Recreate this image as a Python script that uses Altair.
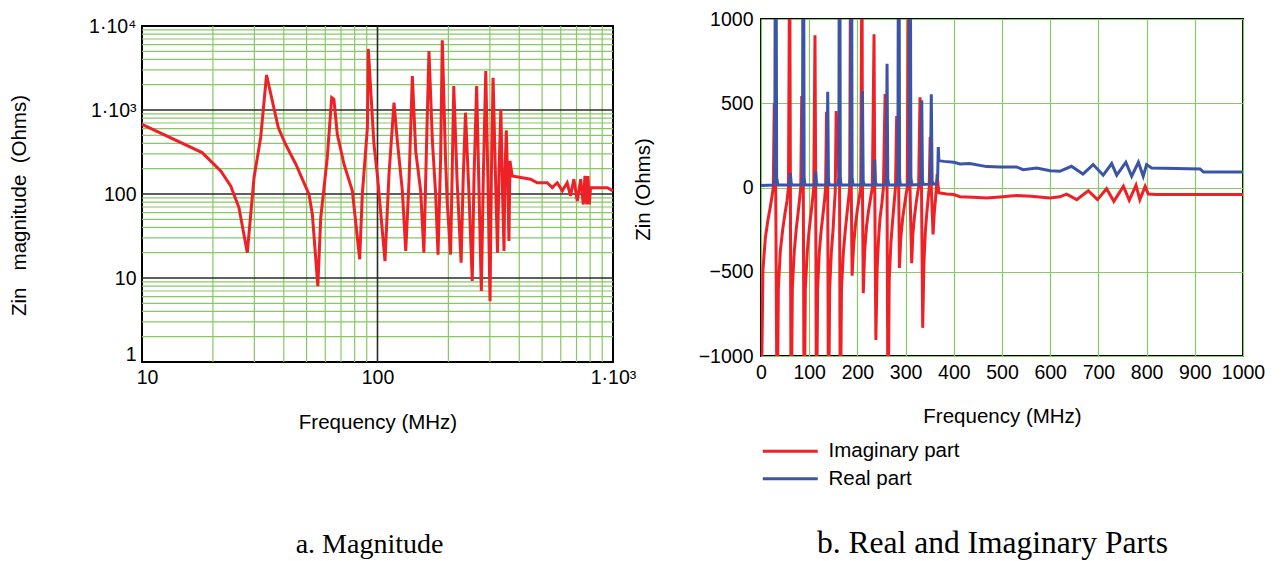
import altair as alt
import pandas as pd

# ---------------- data: left panel |Zin| (log-log) ----------------
mag_freq = [10, 18.0, 21.6, 23.8, 25.8, 28.0, 29.9, 31.9, 33.8, 37.9,
            40.7, 45.0, 51.2, 52.9, 55.8, 57.4, 61.2, 63.9, 65.3, 67.5,
            72.1, 78.2, 84.0, 86.2, 90.6, 91.4, 96.6, 99.8, 107.6, 111.9,
            117.5, 121.4, 127.5, 131.8, 136.1, 140.6, 145.3, 152.5, 157.4, 161.7,
            165.4, 171.0, 176.6, 180.7, 185.4, 188.4, 194.4, 197.6, 204.3, 207.5,
            210.8, 217.8, 226.5, 231.0, 236.4, 244.3, 252.5, 256.7, 263.6, 269.8,
            276.0, 281.6, 288.2, 294.6, 300.5, 304.5, 309.6, 318.0, 323.3, 328.4,
            334.0, 339.0, 344.5, 347.6, 352.3, 358.0, 361.5, 365.2, 373.1, 446.6,
            476.6, 525.5, 552, 580, 609, 639, 660, 682, 705, 729,
            748, 760, 773, 783, 793, 803, 857, 946, 1000]
mag_ohms = [676, 311, 188, 125, 69, 20, 156, 468, 2612, 617,
            391, 226, 99, 57, 8.0, 52, 271, 1403, 1341, 514,
            226, 109, 16.7, 99, 617, 5322, 391, 172, 15.9, 172,
            1222, 428, 109, 21, 143, 2541, 325, 109, 20, 428,
            5034, 428, 99, 19, 271, 6761, 271, 82.6, 19, 172,
            1931, 143, 15.2, 143, 929, 109, 9.2, 143, 1931, 109,
            7.0, 172, 2912, 130, 5.3, 172, 2426, 109, 20, 206,
            1019, 130, 21, 172, 573, 109, 27.6, 247, 164, 150,
            136, 136, 119, 136, 109, 136, 95, 150, 82.6, 150,
            75, 164, 75, 164, 75, 119, 119, 119, 109]

mag_x_ticks = [10, 100, 1000]
mag_y_ticks = [1, 10, 100, 1000, 10000]
mag_minor_x = [20, 30, 40, 50, 60, 70, 80, 90, 200, 300, 400, 500, 600, 700, 800, 900]
mag_minor_y = [2, 3, 4, 5, 6, 7, 8, 9, 20, 30, 40, 50, 60, 70, 80, 90,
               200, 300, 400, 500, 600, 700, 800, 900,
               2000, 3000, 4000, 5000, 6000, 7000, 8000, 9000]
mag_major_x = [100]
mag_major_y = [10, 100, 1000]

# ---------------- data: right panel real / imaginary ----------------
imag_freq = [1, 4, 9, 14, 19, 23, 25.5, 27.5, 30.5, 33.5,
             36, 40, 45, 50, 54, 57, 59.5, 61, 62.5,
             65, 69, 73, 77, 80, 82.5, 84.5, 87.8, 89.5,
             92, 96, 100, 104, 107, 109.5, 112, 113.5, 115,
             117.5, 121, 125, 129, 132, 134, 136, 138.4, 140,
             142.5, 146, 149.5, 152, 154, 156, 163, 164.5,
             167, 171, 175, 179, 182, 184, 185.5, 187.3, 189,
             192, 196, 200, 204, 207, 209.5, 210.5, 212.2,
             215, 219, 223, 227, 231, 234.5, 236, 238.3,
             241, 244, 247, 251, 254, 257.5, 261.5, 263.5,
             266, 269.5, 273, 276, 279, 281.5, 285.7, 287.2,
             290, 294, 298, 301, 303.5, 306, 309.1, 312.6,
             315, 318.5, 322, 325, 327, 329.9, 333, 335.5,
             338, 341, 344, 347, 349, 351, 353.3, 357,
             359.5, 362, 364, 365.5, 367.8, 369,
             372, 385, 400, 413, 440, 468, 496, 530, 560, 600,
             620, 634, 655, 679, 698, 717, 732, 752, 764, 778,
             786, 797, 803.5, 821, 1000]
imag_ohms = [-1200, -490, -300, -200, -120, -50, 0, 500, 0, -1500,
             -600, -380, -250, -150, -80, 0, 1500, 0, -1500,
             -600, -380, -250, -150, -70, 0, 543, 0, -1500,
             -600, -380, -250, -150, -70, 0, 904, 0, -1500,
             -600, -380, -250, -150, -70, 0, 450, 0, -1500,
             -600, -380, -250, -120, -30, 454, 0, -1500,
             -600, -380, -250, -140, -60, 0, 1200, 0, -523,
             -350, -220, -130, -60, 0, 1500, 0, -628,
             -380, -230, -140, -70, 0, 910, 0, -905,
             -480, -300, -180, -90, 0, 555, 0, -1500,
             -550, -330, -200, -100, 0, 424, 0, -477,
             -300, -180, -100, -40, 0, 1200, 0, -449,
             -280, -170, -90, -30, 0, 535, 0, -833,
             -450, -260, -150, -60, 0, 300, 0, -279,
             -150, -70, 0, 80, 0, -30,
             -33, -38, -42, -55, -58, -62, -56, -48, -52, -62,
             -55, -39, -72, -19, -72, -7, -82, 7, -76, 13,
             -72, 7, -39, -42, -42]

real_freq = [0, 26, 28.5, 30.5, 32.5, 35,
             58, 59.5, 61, 62.5, 64,
             84, 86, 87.8, 89.5, 91,
             110, 112, 113.5, 115, 117,
             135, 137, 138.4, 140, 142,
             160, 161.5, 163, 164.5, 166,
             184, 185.8, 187.3, 189, 191,
             207, 209, 210.5, 212, 214,
             232, 234.5, 236, 237.5, 240,
             258, 260, 261.5, 263, 265,
             282, 284, 285.7, 287.5, 289,
             305, 307.5, 309.1, 311, 313,
             330, 332, 333.5, 335, 337,
             349, 351.5, 353.3, 355, 357,
             364, 366.5, 367.8, 369,
             372, 380, 400, 413, 433, 468, 496, 530, 544, 572,
             600, 620, 644, 668, 689, 710, 727.6, 738, 757, 769,
             783, 793, 800, 810.5, 911, 918, 1000]
real_ohms = [12, 15, 60, 2500, 60, 15,
             15, 30, 86, 30, 15,
             15, 60, 2500, 60, 15,
             15, 30, 96, 30, 15,
             15, 40, 568, 40, 15,
             15, 60, 2500, 60, 15,
             15, 60, 2500, 60, 15,
             15, 40, 573, 40, 15,
             15, 30, 168, 30, 15,
             15, 50, 735, 50, 15,
             15, 60, 2500, 60, 15,
             15, 60, 2500, 60, 15,
             18, 40, 517, 40, 18,
             20, 40, 553, 40, 20,
             22, 60, 240, 160,
             158, 155, 150, 140, 142, 124, 121, 122, 106, 116,
             100, 96, 126, 80, 136, 73, 142, 73, 150, 67,
             150, 67, 136, 116, 110, 92, 92]

ri_x_ticks = [0, 100, 200, 300, 400, 500, 600, 700, 800, 900, 1000]
ri_y_ticks = [-1000, -500, 0, 500, 1000]
series_names = ["Imaginary part", "Real part"]

# ---------------- styling ----------------
FONT = "Liberation Sans"
SERIF = "Liberation Serif"
RED = "#EE2226"
BLUE = "#3B54A5"
GREEN = "#86C864"
DARK = "#2a2a2a"
NBSP = "\u00a0"

# ---------------- left panel ----------------
mag_df = pd.DataFrame({"f": mag_freq, "z": mag_ohms})

xl_scale = alt.Scale(type="log", domain=[10, 1000], nice=False)
yl_scale = alt.Scale(type="log", domain=[1, 10000], nice=False)
xl_axis = alt.Axis(
    values=mag_x_ticks,
    labelExpr="datum.value < 50 ? '10' : datum.value < 500 ? '100' : '1·10³'",
    labelOffset={"condition": {"test": "datum.value < 50", "value": 5}, "value": 0},
    grid=False, ticks=False, domain=False, labelPadding=6,
    title="Frequency (MHz)", titleY=60, titleBaseline="middle",
)
yl_axis = alt.Axis(
    values=mag_y_ticks,
    labelExpr=("datum.value < 5 ? '1' : datum.value < 50 ? '10' : "
               "datum.value < 500 ? '100' : datum.value < 5000 ? '1·10³' : '1·10⁴'"),
    labelOffset={"condition": {"test": "datum.value < 5", "value": -8}, "value": 0},
    grid=False, ticks=False, domain=False, labelPadding=6,
    title="Zin" + NBSP * 3 + "magnitude" + NBSP * 2 + "(Ohms)",
    titleX=-123, titleY=179, titleAngle=270, titleBaseline="middle", titleAlign="center",
)

gx = alt.Chart(pd.DataFrame({"f": mag_minor_x})).mark_rule(color=GREEN, strokeWidth=1.2).encode(
    x=alt.X("f:Q", scale=xl_scale, axis=xl_axis))
gy = alt.Chart(pd.DataFrame({"z": mag_minor_y})).mark_rule(color=GREEN, strokeWidth=1.2).encode(
    y=alt.Y("z:Q", scale=yl_scale, axis=yl_axis))
mx = alt.Chart(pd.DataFrame({"f": mag_major_x})).mark_rule(color=DARK, strokeWidth=1.6).encode(
    x=alt.X("f:Q", scale=xl_scale, axis=xl_axis))
my = alt.Chart(pd.DataFrame({"z": mag_major_y})).mark_rule(color=DARK, strokeWidth=1.6).encode(
    y=alt.Y("z:Q", scale=yl_scale, axis=yl_axis))
mag_line = alt.Chart(mag_df).mark_line(color=RED, strokeWidth=3).encode(
    x=alt.X("f:Q", scale=xl_scale, axis=xl_axis),
    y=alt.Y("z:Q", scale=yl_scale, axis=yl_axis),
)

left = alt.layer(gx, gy, mx, my, mag_line).properties(
    width=471, height=336,
    title=alt.TitleParams("a. Magnitude", orient="bottom", anchor="middle", frame="group",
                          font=SERIF, fontSize=28, fontWeight="normal", color="black",
                          offset=98, dx=-8),
)

# invisible spacer that lowers the left panel a few pixels relative to the right one
spacer = alt.Chart(pd.DataFrame({"s": [0]})).mark_point(opacity=0).encode(
    x=alt.value(0), y=alt.value(0)
).properties(width=1, height=1, view=alt.ViewBackground(stroke="transparent"))

# ---------------- right panel ----------------
ri_df = pd.concat([
    pd.DataFrame({"f": imag_freq, "v": imag_ohms, "part": series_names[0]}),
    pd.DataFrame({"f": real_freq, "v": real_ohms, "part": series_names[1]}),
], ignore_index=True)

xr_axis = alt.Axis(values=ri_x_ticks, format="d", grid=True, gridColor=GREEN, gridWidth=1.2,
                   ticks=False, domain=False, labelPadding=7,
                   title="Frequency (MHz)", titleY=60, titleBaseline="middle")
yr_axis = alt.Axis(values=ri_y_ticks, format="d", grid=True, gridColor=GREEN, gridWidth=1.2,
                   ticks=False, domain=False, labelPadding=8,
                   title="Zin (Ohms)", titleX=-118, titleY=170, titleAngle=270,
                   titleBaseline="middle", titleAlign="center")

right = alt.Chart(ri_df).mark_line(strokeWidth=3, clip=True).encode(
    x=alt.X("f:Q", scale=alt.Scale(domain=[0, 1000], nice=False), axis=xr_axis),
    y=alt.Y("v:Q", scale=alt.Scale(domain=[-1000, 1000], nice=False, zero=False), axis=yr_axis),
    color=alt.Color("part:N", scale=alt.Scale(domain=series_names, range=[RED, BLUE]),
                    legend=alt.Legend(orient="none", legendX=19, legendY=422, title=None,
                                      symbolType="M-4,0H4", symbolSize=189, symbolStrokeWidth=3,
                                      labelFont=FONT, labelFontSize=20.5, labelColor="black",
                                      labelOffset=28, rowPadding=6.5, padding=0)),
).properties(
    width=482, height=337,
    title=alt.TitleParams("b. Real and Imaginary Parts", orient="bottom", anchor="middle",
                          frame="group", font=SERIF, fontSize=31.5, fontWeight="normal",
                          color="black", offset=38, dx=-9.5),
)

left_col = alt.vconcat(spacer, left, spacing=-8)
right_col = alt.vconcat(right, spacing=0).resolve_legend(color="independent")

chart = alt.hconcat(left_col, right_col, spacing=-5).resolve_legend(
    color="independent"
).properties(
    padding={"left": 0, "top": 0, "right": 0, "bottom": 0},
    background="white",
).configure_view(
    stroke="black", strokeWidth=2
).configure_axis(
    labelFont=FONT, labelFontSize=19.5, labelColor="black",
    labelFlush=False, labelOverlap=False,
    titleFont=FONT, titleFontSize=20.5, titleFontWeight="normal", titleColor="black",
)

chart.save("out.html", embed_options={"renderer": "svg", "actions": False})
